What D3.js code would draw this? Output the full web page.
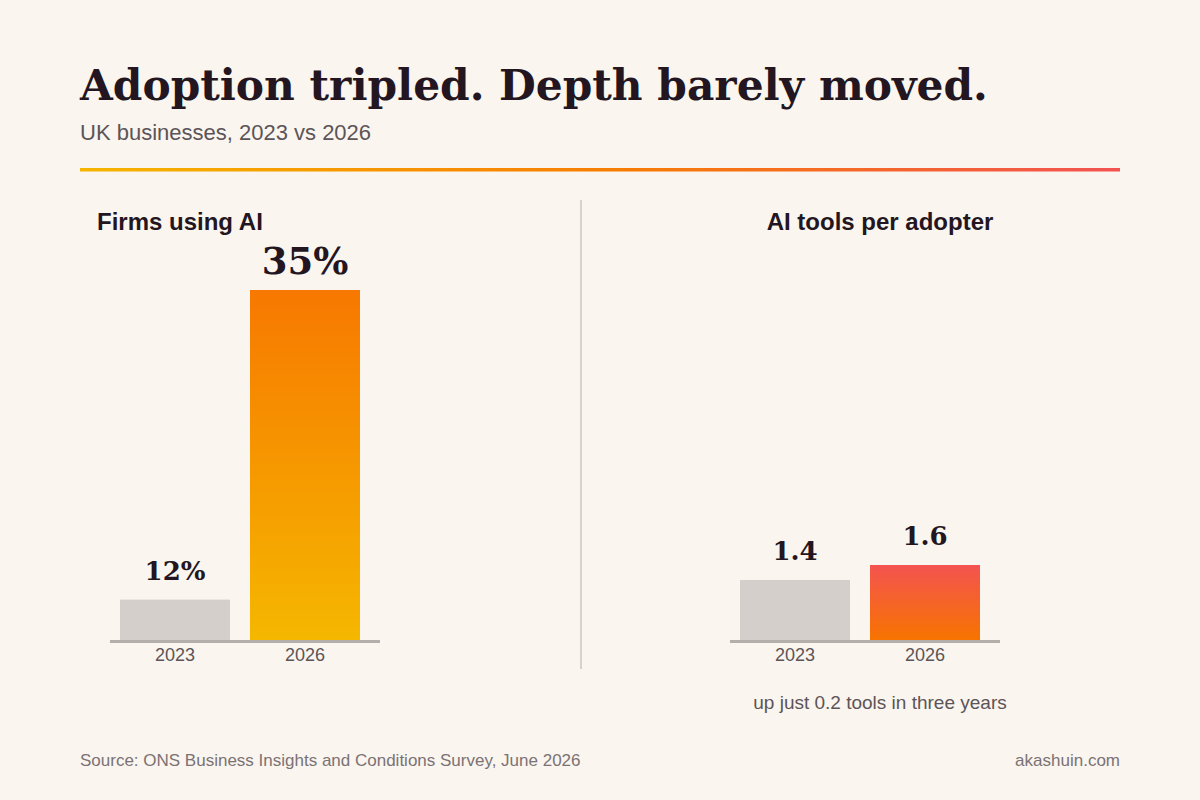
<!DOCTYPE html>
<html lang="en">

<head>
    <meta charset="utf-8">
    <title>Adoption tripled. Depth barely moved.</title>
    <script src="https://d3js.org/d3.v7.min.js"></script>
    <style type="text/css">
        body { margin: 0; background: #faf5ee; }
        svg { display: block; }
    </style>
</head>

<body>
    <script type="text/javascript">

        // data
        var years = ["2023", "2026"];
        var firmsUsingAI = [12, 35];
        var toolsPerAdopter = [1.4, 1.6];
        var firmsLabels = ["12%", "35%"];
        var toolsLabels = ["1.4", "1.6"];

        var w = 1200,
            h = 800,
            baseY = 640,
            serif = "Georgia, 'DejaVu Serif', serif",
            sans = "Arial, 'Liberation Sans', sans-serif",
            ink = "#231621",
            grey = "#5c5458";

        var svg = d3.select("body")
            .append("svg")
            .attr("width", w)
            .attr("height", h);

        svg.append("rect")
            .attr("width", w)
            .attr("height", h)
            .attr("fill", "#faf5ee");

        var defs = svg.append("defs");

        function gradient(id, x2, y2, stops) {
            var g = defs.append("linearGradient")
                .attr("id", id)
                .attr("x1", 0).attr("y1", 0)
                .attr("x2", x2).attr("y2", y2);
            stops.forEach(function (s) {
                g.append("stop").attr("offset", s[0]).attr("stop-color", s[1]);
            });
        }
        gradient("rule", 1, 0, [[0, "#f5b400"], [0.5, "#f77e00"], [1, "#f25252"]]);
        gradient("firms", 0, 1, [[0, "#f77800"], [1, "#f5b700"]]);
        gradient("tools", 0, 1, [[0, "#f45350"], [1, "#f77400"]]);

        // title, fitted to the reference width
        var title = svg.append("text")
            .attr("x", 80)
            .attr("y", 100)
            .attr("font-family", serif)
            .attr("font-weight", "bold")
            .attr("font-size", 44)
            .attr("fill", ink)
            .text("Adoption tripled. Depth barely moved.");
        var tw = title.node().getComputedTextLength();
        title.attr("font-size", 44 * 908 / tw);

        svg.append("text")
            .attr("x", 80)
            .attr("y", 140)
            .attr("font-family", sans)
            .attr("font-size", 22)
            .attr("fill", grey)
            .text("UK businesses, 2023 vs 2026");

        svg.append("rect")
            .attr("x", 80)
            .attr("y", 168)
            .attr("width", 1040)
            .attr("height", 3.5)
            .attr("fill", "url(#rule)");

        // divider
        svg.append("line")
            .attr("x1", 581).attr("x2", 581)
            .attr("y1", 200).attr("y2", 669)
            .attr("stroke", "#d9d2cb")
            .attr("stroke-width", 2);

        function panel(opts) {
            var x = d3.scaleBand()
                .domain(years)
                .range(opts.xRange)
                .paddingInner(20 / 130)
                .paddingOuter(0);

            var y = d3.scaleLinear()
                .domain(opts.yDomain)
                .range([baseY, opts.yTop]);

            var g = svg.append("g");

            g.append("text")
                .attr("x", opts.titleX)
                .attr("y", 230)
                .attr("text-anchor", opts.titleAnchor)
                .attr("font-family", sans)
                .attr("font-weight", "bold")
                .attr("font-size", 24)
                .attr("fill", ink)
                .text(opts.title);

            g.selectAll("rect.bar").data(opts.values)
                .enter()
                .append("rect")
                .attr("class", "bar")
                .attr("x", function (d, i) { return x(years[i]); })
                .attr("width", x.bandwidth())
                .attr("y", function (d) { return y(d); })
                .attr("height", function (d) { return baseY - y(d); })
                .attr("fill", function (d, i) {
                    return i === 0 ? "#d4cfcb" : "url(#" + opts.grad + ")";
                });

            g.selectAll("text.val").data(opts.values)
                .enter()
                .append("text")
                .attr("class", "val")
                .attr("x", function (d, i) { return x(years[i]) + x.bandwidth() / 2; })
                .attr("y", function (d, i) { return y(d) - opts.gap[i]; })
                .attr("text-anchor", "middle")
                .attr("font-family", serif)
                .attr("font-weight", "bold")
                .attr("font-size", function (d, i) { return opts.sizes[i]; })
                .attr("fill", ink)
                .text(function (d, i) { return opts.labels[i]; });

            // baseline
            g.append("line")
                .attr("x1", opts.xRange[0] - 10)
                .attr("x2", opts.xRange[1] + 20)
                .attr("y1", baseY + 1.5)
                .attr("y2", baseY + 1.5)
                .attr("stroke", "#b5afab")
                .attr("stroke-width", 3);

            var axis = d3.axisBottom(x).tickSize(0).tickPadding(0);
            var ax = g.append("g")
                .attr("transform", "translate(0," + baseY + ")")
                .call(axis);
            ax.select(".domain").remove();
            ax.selectAll("text")
                .attr("dy", 0)
                .attr("y", 21)
                .attr("font-family", sans)
                .attr("font-size", 18)
                .attr("fill", grey);
        }

        panel({
            title: "Firms using AI",
            titleX: 97,
            titleAnchor: "start",
            values: firmsUsingAI,
            labels: firmsLabels,
            xRange: [120, 360],
            yDomain: [9, 35],
            yTop: 290,
            grad: "firms",
            sizes: [26, 37],
            gap: [20, 16]
        });

        panel({
            title: "AI tools per adopter",
            titleX: 880,
            titleAnchor: "middle",
            values: toolsPerAdopter,
            labels: toolsLabels,
            xRange: [740, 980],
            yDomain: [0.6, 1.6],
            yTop: 565,
            grad: "tools",
            sizes: [26, 26],
            gap: [20, 20]
        });

        svg.append("text")
            .attr("x", 880)
            .attr("y", 709)
            .attr("text-anchor", "middle")
            .attr("font-family", sans)
            .attr("font-size", 19)
            .attr("fill", grey)
            .text("up just 0.2 tools in three years");

        // footer
        svg.append("text")
            .attr("x", 80)
            .attr("y", 766)
            .attr("font-family", sans)
            .attr("font-size", 17)
            .attr("fill", "#7a7275")
            .text("Source: ONS Business Insights and Conditions Survey, June 2026");

        svg.append("text")
            .attr("x", 1120)
            .attr("y", 766)
            .attr("text-anchor", "end")
            .attr("font-family", sans)
            .attr("font-size", 17)
            .attr("fill", "#7a7275")
            .text("akashuin.com");

    </script>
</body>

</html>
